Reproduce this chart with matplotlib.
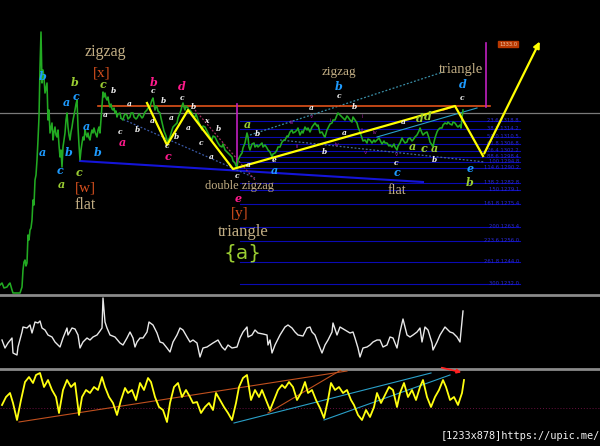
import matplotlib
matplotlib.use("Agg")
import matplotlib.pyplot as plt

# ---------------- data ----------------
# main price series (bar index, price level; level axis grows downward like the screen)
price_x = [0,2,4,7,9,10,12,13,17,20,22,23,24,25,26,27,28,29,30,31,32,33,34,35,36,37,38,39,40,41,42,43,44,45,46,47,48,49,50,
           51,52,53,54,55,56,57,58,59,60,61,62,63,64,65,66,67,68,69,70,71,72,73,74,75,76,77,78,79,80,81,82,83,84,85,86,87,88,
           89,90,91,92,93,94,95,97,98,99,100,
           103,104,105,106,107,108,109,110,111,112,113,114,115,116,117,118,120,121,123,124,125,127,128,130,131,133,134,136,137,
           139,140,142,143,145,147,148,150,151,152,153,154,155,156,157,158,160,161,163,164,166,167,168,169,170,172,173,175,177,
           178,180,181,182,183,184,185,186,188,189,190,192,193,195,196,198,200,202,203,205,207,208,210,212,213,215,217,218,220,
           222,223,225,227,228,230,232,233,235,236,237,238,240,242,243,245,246,247,248,249,250,252,254,255,257,258,260,262,263,
           265,267,268,270,272,273,275,277,278,280,282,284,285,287,288,290,292,293,295,297,298,300,302,303,305,307,308,310,312,
           315,317,318,320,322,324,325,327,328,330,332,333,335,337,338,340,342,344,345,347,348,350,352,353,355,357,358,360,362,
           363,365,367,368,370,372,374,375,377,379,380,382,384,385,387,389,390,392,394,395,397,398,400,402,403,405,407,408,410,
           412,413,415,417,419,420,422,423,425,427,429,430,432,433,434,435,437,438,440,442,443,445,447,448,450,452,453,455,457,
           458,460,461,462,463]
price_y = [285,283,288,287,284,283,290,293,293,293,287,270,262,260,266,263,235,240,230,228,220,200,205,180,175,160,140,117,67,32,83,70,78,93,88,83,120,110,133,
           128,123,140,132,127,135,137,130,145,157,150,167,147,140,133,120,113,127,135,140,132,127,120,115,110,104,100,127,145,160,150,143,137,140,130,134,137,133,
           138,140,134,130,133,128,132,137,130,127,133,
           92,97,93,98,100,97,103,107,104,109,110,108,113,111,117,114,113,118,120,116,114,115,119,117,113,113,117,119,118,
           114,115,118,117,112,110,108,107,103,100,98,104,110,106,107,111,113,118,127,131,136,140,143,139,137,130,127,125,123,
           118,113,110,106,103,107,110,106,108,112,110,113,116,117,114,120,125,130,126,127,131,133,137,140,136,137,141,143,146,
           147,144,150,152,153,155,157,161,163,166,167,160,156,153,148,143,138,133,137,147,150,144,143,147,145,147,145,143,147,
           145,148,150,152,157,154,153,150,147,147,142,140,140,136,137,132,130,133,132,130,128,135,131,133,127,130,128,132,127,
           123,126,125,133,132,136,137,130,128,124,123,120,120,115,113,115,117,119,120,116,117,120,122,117,120,123,127,132,138,
           141,140,143,139,140,143,140,142,140,138,140,144,141,143,143,146,145,147,144,147,150,146,143,138,140,143,142,139,138,
           141,140,137,135,131,128,133,135,133,132,138,142,145,147,142,138,132,130,128,128,125,123,124,122,124,125,122,123,126,
           127,125,128,118,110]

# upper oscillator
osc1_x = [2,5,8,12,13,17,18,22,23,27,30,32,35,38,40,42,45,48,52,55,58,60,63,67,68,72,75,78,80,83,87,90,93,97,100,102,103,105,
          107,110,115,120,123,127,130,133,135,137,140,143,147,149,153,157,160,163,167,170,173,177,180,183,187,190,193,197,200,
          203,207,210,213,218,222,225,228,232,237,240,243,247,248,252,255,258,263,267,268,270,272,275,280,285,288,292,295,298,
          303,307,310,312,315,318,322,325,328,332,333,337,340,345,350,353,355,358,360,363,367,370,373,377,380,383,387,390,393,
          397,400,403,407,410,413,417,420,422,425,428,432,433,437,440,445,450,453,457,460,463]
osc1_y = [340,348,343,338,353,355,347,332,327,328,325,333,322,323,321,328,330,335,337,342,345,347,338,328,335,328,329,335,
          348,342,338,340,337,335,331,328,298,322,328,335,337,343,345,338,332,338,347,342,338,338,332,322,325,333,342,343,348,
          352,342,335,328,330,337,342,340,343,357,348,347,345,343,340,347,350,345,348,347,338,332,327,337,335,330,333,334,335,
          345,340,353,345,335,327,325,328,332,335,336,328,327,332,335,343,353,345,340,332,323,335,327,330,333,332,338,348,357,
          348,347,345,342,340,340,347,345,337,338,348,332,319,335,337,335,332,328,342,327,330,343,350,342,335,327,332,333,337,
          342,311]

# lower oscillator
osc2_x = [2,6,10,13,17,21,25,29,33,36,40,44,48,52,56,59,63,67,71,75,79,82,86,90,94,98,102,105,109,113,117,121,125,128,132,
          136,140,144,148,151,155,159,163,167,170,174,178,182,186,190,193,197,201,205,209,213,216,220,224,228,232,236,239,243,
          247,251,255,259,262,266,270,274,278,282,285,289,293,297,301,305,308,312,316,320,324,328,331,335,339,343,347,351,354,
          358,362,366,370,374,377,381,385,389,393,397,400,404,408,412,416,420,423,427,431,435,439,443,446,450,454,458,462,464]
osc2_y = [405,397,393,403,420,400,382,377,383,375,373,387,380,390,397,413,390,380,387,383,415,397,390,393,387,390,377,387,
          397,403,415,400,388,393,390,400,383,390,378,382,397,407,410,422,403,387,383,397,390,397,403,402,413,407,403,410,393,
          400,407,413,420,403,387,378,375,400,390,397,390,400,410,400,390,385,388,382,387,400,393,382,393,390,400,408,418,400,
          383,390,387,393,390,400,405,415,420,410,417,407,393,403,395,387,390,407,393,383,397,390,400,387,380,397,407,397,390,
          380,387,400,397,405,393,380]

# wave labels: (bar, level, text, colour)
label_x = [43,75,66,76,86,42,69,98,60,61,79,103,113,105,129,120,137,122,154,153,163,182,182,193,152,171,176,167,168,188,
           206,218,201,211,247,257,237,238,274,274,248,339,339,311,354,324,344,403,420,428,412,424,434,434,396,397,463,462,470,470]
label_y = [77,82,103,96,126,153,153,153,170,184,172,85,91,115,104,132,130,142,82,91,101,87,98,107,121,118,137,146,156,128,
           121,129,143,157,124,134,176,199,160,171,165,87,96,108,107,152,133,122,119,117,147,148,149,160,163,172,85,98,168,183]
label_text = ["b","b","a","c","a","a","b","b","c","a","c","c","b","a","a","c","b","a","b","c","b","d","c","b","a","a",
              "b","c","c","a","x","b","c","a","a","b","c","e","e","a","a","b","c","a","b","b","a","a","d","d","a","c",
              "a","b","c","c","d","c","e","b"]
label_color = ["cy","yg","cy","cy","cy","cy","cy","cy","cy","yg","yg","yg","wh","wh","wh","wh","wh","pk","pk","wh","wh",
               "pk","wh","wh","wh","wh","wh","wh","pk","wh","wh","wh","wh","wh","yg","wh","wh","pk","wh","cy","wh","cy",
               "wh","wh","wh","wh","wh","wh","yg","yg","yg","yg","yg","wh","wh","cy","cy","wh","cy","yg"]

# small minor-degree labels (purple)
minor_x = [292, 311, 330, 297, 337, 362, 362, 375, 365, 396]
minor_y = [122, 117, 120, 146, 145, 117, 130, 133, 152, 154]
minor_text = ["iii", "v", "i", "ii", "iv", "i", "ii", "iv", "v", "v"]

# pattern names: (bar, level, text, size)
name_x = [105, 85, 239, 243, 339, 461, 397]
name_y = [52, 205, 186, 232, 72, 69, 190]
name_text = ["zigzag", "flat", "double zigzag", "triangle", "zigzag", "triangle", "flat"]
name_size = [11.5, 11.5, 8.8, 12, 9.5, 10.5, 10]
degree_x = [102, 85, 240]
degree_y = [73, 188, 214]
degree_text = ["[x]", "[w]", "[y]"]

# projection path (yellow)
path_x = [147, 167, 188, 233, 455, 483]
path_y = [103, 145, 110, 169, 106, 156]
target_x, target_y = 541, 39

# fibonacci levels
fib_levels = [121, 129, 137, 144, 151, 157, 162, 168, 183, 190, 204, 227, 241, 262, 284]
fib_text = ["23.6 1318.8", "38.2 1314.2", "50.0 1310.5", "61.8 1306.8", "76.4 1302.2", "88.6 1298.4",
            "100 1294.8", "114.6 1290.2", "138.2 1282.8", "150 1279.1", "161.8 1275.4", "200 1263.4",
            "223.6 1256.0", "261.8 1244.0", "300 1232.0"]

COL = {"cy": "#1e9bff", "yg": "#9acd32", "wh": "#f0f0f0", "pk": "#ff1a8c"}
SIZE = {"cy": 8, "yg": 8, "pk": 8, "wh": 5.4}

# ---------------- figure ----------------
W, H = 600, 446
fig = plt.figure(figsize=(6, 4.46), dpi=100, facecolor="black")

ax = fig.add_axes([0, 1 - 294 / H, 1, 294 / H])
ax.set_facecolor("black")
ax.set_xlim(0, 600)
ax.set_ylim(294, 0)
ax.axis("off")

# fib lines
for lv, t in zip(fib_levels, fib_text):
    ax.plot([240, 520], [lv, lv], color="#0a0ab4", lw=0.8, zorder=1)
    ax.text(519, lv - 0.5, t, color="#2a2ad8", fontsize=3.8, ha="right", va="center", zorder=2)

# horizontal references
ax.plot([0, 600], [113, 113], color="#7a7a7a", lw=0.9, zorder=1)
ax.plot([98, 490], [106, 106], color="#e0521a", lw=1.2, zorder=3)
ax.plot([80, 423], [161, 182], color="#1414d8", lw=1.5, zorder=2)

# dotted guide lines
ax.plot([120, 255], [118, 178], color="#3a5aa8", lw=0.9, ls=(0, (1.5, 1.5)), zorder=2)
ax.plot([195, 255], [110, 180], color="#a03060", lw=0.9, ls=(0, (1.5, 1.5)), zorder=2)
ax.plot([250, 443], [135, 72], color="#3a8fa8", lw=0.9, ls=(0, (1.5, 1.5)), zorder=2)
ax.plot([280, 485], [140, 162], color="#4a6a98", lw=0.9, ls=(0, (1.5, 1.5)), zorder=2)
ax.plot([377, 477], [137, 108], color="#2aa0c8", lw=0.8, zorder=2)

# vertical markers
ax.plot([237, 237], [104, 167], color="#c020c0", lw=1.2, zorder=3)
ax.plot([486, 486], [43, 107], color="#c020c0", lw=1.2, zorder=3)
ax.text(508, 44, "1333.0", color="#f0c0a0", fontsize=3.8, ha="center", va="center",
        bbox=dict(boxstyle="square,pad=0.15", fc="#b83800", ec="#b83800"), zorder=5)

# price
ax.plot(price_x, price_y, color="#22aa22", lw=1.15, zorder=4)

# yellow path
ax.plot(path_x, path_y, color="#ffff00", lw=1.6, zorder=6)
ax.annotate("", xy=(target_x, target_y), xytext=(path_x[-1], path_y[-1]),
            arrowprops=dict(arrowstyle="-|>", color="#ffff00", lw=1.6, mutation_scale=9), zorder=6)
ax.plot([443, 455], [110, 106], color="#ff2020", lw=1.2, zorder=5)

# wave labels
for x, y, t, c in zip(label_x, label_y, label_text, label_color):
    ax.text(x, y, t, color=COL[c], fontsize=SIZE[c], fontfamily="DejaVu Serif", fontstyle="italic",
            fontweight="bold", ha="center", va="center", zorder=7)
for x, y, t in zip(minor_x, minor_y, minor_text):
    ax.text(x, y, t, color="#a020a0", fontsize=4, ha="center", va="center", zorder=7)

for x, y, t, s in zip(name_x, name_y, name_text, name_size):
    ax.text(x, y, t, color="#c2ae84", fontsize=s, fontfamily="Liberation Serif", ha="center", va="center", zorder=7)
for x, y, t in zip(degree_x, degree_y, degree_text):
    ax.text(x, y, t, color="#d8501e", fontsize=11, fontfamily="Liberation Serif", ha="center", va="center", zorder=7)
ax.text(242, 253, "{a}", color="#9acd32", fontsize=14.5, fontfamily="DejaVu Sans", ha="center", va="center", zorder=7)

# separators
sep = fig.add_axes([0, 0, 1, 1], facecolor="none")
sep.set_xlim(0, W)
sep.set_ylim(H, 0)
sep.axis("off")
sep.plot([0, 600], [294.5, 294.5], color="#8a8a8a", lw=2)
sep.plot([0, 600], [368.5, 368.5], color="#8a8a8a", lw=2)

# upper oscillator
a1 = fig.add_axes([0, 1 - 368 / H, 1, (368 - 296) / H])
a1.set_facecolor("black")
a1.set_xlim(0, 600)
a1.set_ylim(368, 296)
a1.axis("off")
a1.plot(osc1_x, osc1_y, color="#e8e8e8", lw=1.0)

# lower oscillator
a2 = fig.add_axes([0, 0, 1, (H - 370) / H])
a2.set_facecolor("black")
a2.set_xlim(0, 600)
a2.set_ylim(446, 370)
a2.axis("off")
a2.plot([0, 600], [408, 408], color="#6a1040", lw=0.7, ls=(0, (1, 2)))
a2.plot([19, 347], [422, 371], color="#c0501e", lw=0.8)
a2.plot([268, 341], [413, 370], color="#c0501e", lw=0.8)
a2.plot([234, 431], [423, 373], color="#2aa0c8", lw=0.8)
a2.plot([324, 450], [420, 375], color="#2aa0c8", lw=0.8)
a2.plot(osc2_x, osc2_y, color="#ffff10", lw=1.3)
a2.annotate("", xy=(464, 373), xytext=(439, 367),
            arrowprops=dict(arrowstyle="-|>", color="#ff2020", lw=1.2, mutation_scale=6))

fig.text(520 / W, 1 - 436 / H, "[1233x878]https://upic.me/", color="#f0f0f0", fontsize=7.4,
         fontfamily="DejaVu Sans Mono", ha="center", va="center")

fig.savefig("out.png", dpi=100, facecolor="black")
